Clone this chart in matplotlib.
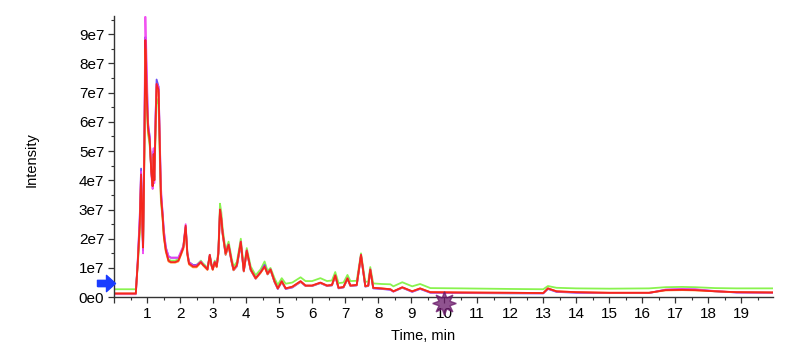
import numpy as np
import matplotlib.pyplot as plt
from matplotlib.ticker import MultipleLocator, FuncFormatter
from matplotlib.transforms import blended_transform_factory

plt.rcParams['font.family'] = ['Liberation Sans', 'DejaVu Sans']

# retention time, min
time = [0.0, 0.66, 0.72, 0.78, 0.82, 0.86, 0.88, 0.92, 0.95, 0.99, 1.03, 1.08, 1.13, 1.17, 1.2, 1.22,
        1.26, 1.29, 1.35, 1.39, 1.42, 1.47, 1.51, 1.57, 1.65, 1.72, 1.85, 1.95, 2.02, 2.1, 2.17, 2.22,
        2.27, 2.39, 2.5, 2.63, 2.7, 2.75, 2.83, 2.9, 2.95, 2.99, 3.05, 3.11, 3.16, 3.21, 3.25, 3.29,
        3.38, 3.47, 3.56, 3.62, 3.72, 3.84, 3.93, 4.02, 4.14, 4.29, 4.44, 4.56, 4.65, 4.74, 4.86, 4.96,
        5.08, 5.2, 5.4, 5.65, 5.8, 6.0, 6.25, 6.45, 6.6, 6.7, 6.8, 6.95, 7.07, 7.16, 7.35, 7.48,
        7.61, 7.7, 7.76, 7.85, 8.1, 8.37, 8.46, 8.73, 9.03, 9.27, 9.58, 10.5, 12.0, 13.0, 13.14, 13.4,
        14.0, 15.0, 16.2, 16.7, 17.2, 17.6, 18.2, 18.85, 20.0]

# intensities in units of 1e7
green = [0.27, 0.27, 1.1, 2.2, 3.8, 2.6, 1.75, 4.8, 8.3, 6.6, 5.6, 5.2, 4.4, 3.9, 4.7, 4.1,
         5.6, 6.8, 6.6, 4.6, 3.3, 2.7, 2.1, 1.6, 1.3, 1.25, 1.25, 1.3, 1.5, 1.75, 2.4, 1.55,
         1.2, 1.1, 1.1, 1.25, 1.15, 1.1, 1.0, 1.45, 1.15, 1.0, 1.25, 1.1, 1.6, 3.2, 2.9, 2.35,
         1.6, 1.9, 1.35, 1.05, 1.2, 2.0, 1.0, 1.68, 1.05, 0.75, 0.95, 1.22, 0.9, 1.0, 0.65, 0.42,
         0.65, 0.46, 0.5, 0.68, 0.55, 0.55, 0.65, 0.55, 0.57, 0.86, 0.48, 0.5, 0.76, 0.55, 0.56, 1.5,
         0.52, 0.54, 1.03, 0.47, 0.45, 0.44, 0.37, 0.51, 0.37, 0.45, 0.31, 0.3, 0.28, 0.27, 0.38, 0.32,
         0.3, 0.29, 0.3, 0.34, 0.35, 0.34, 0.31, 0.3, 0.3]
blue = [0.11, 0.11, 1.25, 2.7, 4.4, 2.4, 1.6, 5.5, 8.9, 7.5, 5.9, 5.5, 4.3, 3.8, 5.0, 4.0,
        6.2, 7.45, 7.2, 5.2, 3.6, 2.9, 2.25, 1.7, 1.4, 1.35, 1.35, 1.35, 1.5, 1.7, 2.4, 1.5,
        1.2, 1.1, 1.1, 1.2, 1.1, 1.05, 0.95, 1.4, 1.1, 0.95, 1.2, 1.05, 1.5, 2.9, 2.6, 2.15,
        1.45, 1.75, 1.2, 0.92, 1.05, 1.8, 0.88, 1.55, 0.92, 0.63, 0.85, 1.1, 0.78, 0.92, 0.52, 0.28,
        0.52, 0.28, 0.33, 0.52, 0.38, 0.38, 0.48, 0.38, 0.4, 0.72, 0.3, 0.33, 0.62, 0.38, 0.4, 1.4,
        0.36, 0.38, 0.92, 0.3, 0.28, 0.25, 0.19, 0.32, 0.18, 0.28, 0.15, 0.14, 0.13, 0.13, 0.28, 0.18,
        0.15, 0.14, 0.14, 0.25, 0.27, 0.26, 0.2, 0.16, 0.15]
magenta = [0.1, 0.1, 1.3, 2.8, 4.3, 2.2, 1.5, 6.0, 9.6, 8.0, 6.0, 5.5, 4.2, 3.7, 5.1, 3.9,
           6.3, 7.3, 7.2, 5.3, 3.8, 2.9, 2.3, 1.7, 1.4, 1.35, 1.35, 1.35, 1.55, 1.75, 2.5, 1.55,
           1.2, 1.08, 1.08, 1.22, 1.1, 1.05, 0.95, 1.45, 1.1, 0.95, 1.2, 1.05, 1.5, 3.0, 2.7, 2.2,
           1.5, 1.8, 1.25, 0.93, 1.08, 1.9, 0.9, 1.6, 0.93, 0.64, 0.85, 1.05, 0.8, 0.95, 0.53, 0.29,
           0.53, 0.29, 0.34, 0.53, 0.39, 0.39, 0.49, 0.39, 0.41, 0.74, 0.31, 0.34, 0.64, 0.39, 0.41, 1.45,
           0.37, 0.39, 0.95, 0.31, 0.29, 0.26, 0.19, 0.33, 0.19, 0.29, 0.16, 0.15, 0.14, 0.13, 0.29, 0.19,
           0.16, 0.14, 0.14, 0.26, 0.28, 0.27, 0.21, 0.16, 0.15]
orange = [0.12, 0.12, 1.15, 2.4, 4.0, 2.5, 1.7, 5.0, 8.5, 6.9, 5.7, 5.3, 4.3, 3.8, 4.8, 4.0,
          5.9, 7.2, 7.0, 4.9, 3.4, 2.75, 2.05, 1.55, 1.22, 1.18, 1.18, 1.22, 1.42, 1.65, 2.35, 1.45,
          1.12, 1.02, 1.02, 1.18, 1.08, 1.02, 0.93, 1.4, 1.08, 0.93, 1.18, 1.02, 1.45, 2.95, 2.65, 2.15,
          1.45, 1.75, 1.22, 0.92, 1.08, 1.85, 0.88, 1.55, 0.93, 0.63, 0.83, 1.03, 0.78, 0.93, 0.53, 0.3,
          0.53, 0.3, 0.35, 0.53, 0.39, 0.39, 0.49, 0.39, 0.41, 0.73, 0.32, 0.34, 0.63, 0.39, 0.41, 1.42,
          0.37, 0.39, 0.93, 0.32, 0.3, 0.27, 0.2, 0.33, 0.2, 0.3, 0.17, 0.16, 0.15, 0.14, 0.3, 0.2,
          0.17, 0.15, 0.15, 0.23, 0.24, 0.23, 0.2, 0.17, 0.16]
red = [0.13, 0.13, 1.2, 2.5, 4.2, 2.5, 1.7, 5.0, 8.8, 7.0, 5.8, 5.4, 4.3, 3.8, 4.9, 4.0,
       6.0, 7.3, 7.1, 5.0, 3.5, 2.8, 2.1, 1.6, 1.25, 1.2, 1.2, 1.25, 1.45, 1.7, 2.45, 1.5,
       1.15, 1.05, 1.05, 1.2, 1.1, 1.05, 0.95, 1.45, 1.1, 0.95, 1.2, 1.05, 1.5, 3.0, 2.7, 2.2,
       1.5, 1.8, 1.25, 0.95, 1.1, 1.9, 0.9, 1.6, 0.95, 0.65, 0.85, 1.05, 0.8, 0.95, 0.55, 0.3,
       0.55, 0.3, 0.36, 0.55, 0.4, 0.4, 0.5, 0.4, 0.42, 0.75, 0.32, 0.35, 0.65, 0.4, 0.42, 1.45,
       0.38, 0.4, 0.95, 0.32, 0.3, 0.27, 0.2, 0.34, 0.2, 0.3, 0.17, 0.16, 0.15, 0.14, 0.3, 0.2,
       0.17, 0.15, 0.15, 0.24, 0.25, 0.24, 0.2, 0.17, 0.16]

traces = [(green, '#7cf23c'), (blue, '#5a3cf0'), (magenta, '#f040f0'),
          (orange, '#ff8a1e'), (red, '#f41c1c')]

fig = plt.figure(figsize=(8, 3.58), dpi=100)
ax = fig.add_axes([0.1425, 0.170, 0.8235, 0.785])

for vals, col in traces:
    ax.plot(time, np.array(vals) * 1e7, color=col, lw=1.3, alpha=0.9)

ax.set_xlim(0, 19.95)
ax.set_ylim(0, 9.62e7)

ax.xaxis.set_major_locator(MultipleLocator(1))
ax.xaxis.set_minor_locator(MultipleLocator(0.5))
ax.yaxis.set_major_locator(MultipleLocator(1e7))
ax.yaxis.set_minor_locator(MultipleLocator(0.5e7))
ax.xaxis.set_major_formatter(FuncFormatter(lambda v, p: '' if v == 0 else f'{int(round(v))}'))
ax.yaxis.set_major_formatter(FuncFormatter(lambda v, p: '0e0' if v == 0 else f'{int(round(v / 1e7))}e7'))

for s in ['top', 'right']:
    ax.spines[s].set_visible(False)
for s in ['left', 'bottom']:
    ax.spines[s].set_color('#333333')
    ax.spines[s].set_linewidth(1.0)
ax.tick_params(which='major', length=4, width=0.9, color='#333333', labelsize=11, pad=3)
ax.tick_params(which='minor', length=2.5, width=0.8, color='#333333')

ax.set_ylabel('Intensity', fontsize=10.5)
ax.yaxis.set_label_coords(-0.115, 0.49)
ax.set_xlabel('Time, min', fontsize=10.5)
ax.xaxis.set_label_coords(0.469, -0.115)

# blue start marker on the y axis
arrow = [(-1, -0.35), (0, -0.35), (0, -0.9), (1, 0), (0, 0.9), (0, 0.35), (-1, 0.35), (-1, -0.35)]
ax.plot([-0.25], [0.48e7], marker=arrow, markersize=13, color='#1a3cff', clip_on=False, zorder=5)

# purple flag on the time axis
tr = blended_transform_factory(ax.transData, ax.transAxes)
ax.plot([10], [-0.02], marker=(8, 1, 0), markersize=17, color='#6a1a6a', alpha=0.75,
        transform=tr, clip_on=False, zorder=6)

fig.savefig('out.png', dpi=100)
